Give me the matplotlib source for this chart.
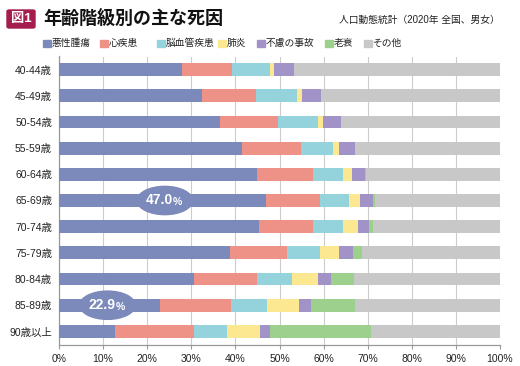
import matplotlib
matplotlib.use("Agg")
import matplotlib.pyplot as plt
from matplotlib.patches import Ellipse, Rectangle, FancyBboxPatch
import numpy as np

plt.rcParams['font.family'] = ['Liberation Sans', 'Noto Sans CJK JP']

ages = ["40-44歳", "45-49歳", "50-54歳", "55-59歳", "60-64歳", "65-69歳",
        "70-74歳", "75-79歳", "80-84歳", "85-89歳", "90歳以上"]
causes = ["悪性腫瘍", "心疾患", "脳血管疾患", "肺炎", "不慮の事故", "老衰", "その他"]
colors = ["#7b89bb", "#ee9187", "#94d3dc", "#fce891", "#a193c8", "#9dcf8d", "#c8c8c8"]

cancer   = [27.8, 32.4, 36.6, 41.6, 45.0, 47.0, 45.4, 38.7, 30.5, 22.9, 12.6]
heart    = [11.4, 12.2, 13.1, 13.2, 12.5, 12.1, 12.1, 12.9, 14.3, 16.0, 17.9]
stroke   = [8.6, 9.3, 9.0, 7.3, 6.8, 6.6, 6.8, 7.5, 8.0, 8.2, 7.5]
pneumo   = [1.0, 1.1, 1.1, 1.5, 2.1, 2.5, 3.4, 4.5, 5.9, 7.3, 7.5]
accident = [4.6, 4.3, 4.1, 3.5, 2.9, 2.9, 2.7, 3.0, 2.9, 2.7, 2.3]
senility = [0.0, 0.0, 0.0, 0.0, 0.4, 0.5, 0.7, 2.0, 5.2, 10.0, 22.9]
series = [cancer, heart, stroke, pneumo, accident, senility]
other = [100 - sum(s[i] for s in series) for i in range(len(ages))]
series.append(other)

highlight_rows = [5, 9]

fig = plt.figure(figsize=(5.2, 3.66), dpi=100)
W, H = 520, 366
ax = fig.add_axes([59 / W, 1 - 344.5 / H, 441 / W, (344.5 - 56.5) / H])

y = np.arange(len(ages))
left = np.zeros(len(ages))
for vals, c in zip(series, colors):
    ax.barh(y, vals, left=left, height=0.49, color=c, zorder=3, linewidth=0)
    left += np.array(vals)

ax.set_xlim(0, 100)
ax.set_ylim(len(ages) - 0.5, -0.5)
ax.set_yticks(y)
ax.set_yticklabels(ages, fontsize=7.5, color="#222222")
ax.set_xticks(np.arange(0, 101, 10))
ax.set_xticklabels([f"{v}%" for v in range(0, 101, 10)], fontsize=7.5, color="#222222")
ax.tick_params(axis='y', length=0, pad=5)
ax.tick_params(axis='x', length=3, color="#999999", pad=4)
ax.grid(axis='x', color="#cccccc", linewidth=0.8, zorder=0)
for s in ["top", "right"]:
    ax.spines[s].set_visible(False)
for s in ["left", "bottom"]:
    ax.spines[s].set_color("#999999")
    ax.spines[s].set_linewidth(0.9)

# highlighted value bubbles
bubble_x = {5: 24.0, 9: 11.0}
for r in highlight_rows:
    e = Ellipse((bubble_x[r], r), width=12.6, height=1.08, color=colors[0], zorder=4)
    ax.add_patch(e)
    v = cancer[r]
    ax.text(bubble_x[r] + 1.8, r, f"{v:.1f}", ha="right", va="center", fontsize=10,
            fontweight="bold", color="white", zorder=5)
    ax.text(bubble_x[r] + 1.8, r + 0.05, "%", ha="left", va="center", fontsize=7.5,
            fontweight="bold", color="white", zorder=5)

# title badge
badge = FancyBboxPatch((7 / W, 1 - 28 / H), 28 / W, 18 / H,
                       boxstyle="round,pad=0,rounding_size=0.004",
                       transform=fig.transFigure, color="#a51c4e", zorder=2)
fig.patches.append(badge)
fig.text(21 / W, 1 - 19 / H, "図1", ha="center", va="center", fontsize=9.5,
         fontweight="bold", color="white")
fig.text(43 / W, 1 - 19 / H, "年齢階級別の主な死因", ha="left", va="center",
         fontsize=13, fontweight="bold", color="#111111")
fig.text(500 / W, 1 - 20 / H, "人口動態統計（2020年 全国、男女）", ha="right",
         va="center", fontsize=7, color="#222222")

# legend
leg_x = [43, 100, 157, 218, 257, 325, 364]
for lx, lab, c in zip(leg_x, causes, colors):
    fig.patches.append(Rectangle((lx / W, 1 - 47 / H), 7.5 / W, 7.5 / H,
                                 transform=fig.transFigure, color=c))
    fig.text((lx + 8.5) / W, 1 - 43 / H, lab, ha="left", va="center",
             fontsize=7, color="#222222")

fig.savefig("out.png", dpi=100)
